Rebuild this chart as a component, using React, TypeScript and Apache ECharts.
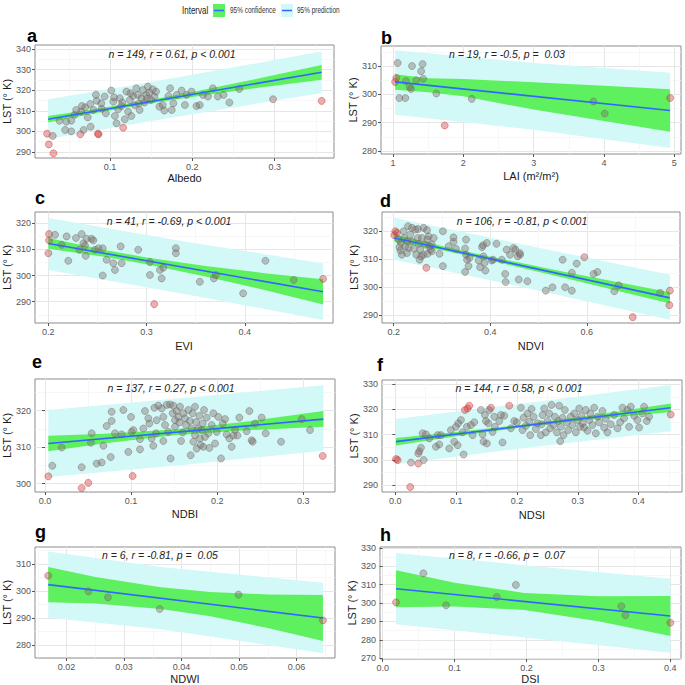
import React, { useEffect, useRef } from 'react';
import * as echarts from 'echarts';

// ---------- data ----------
// points: [x, LST, influence(0 = grey .. 1 = red)]
const albedoPts = [
  [0.0237, 298.9, 1], [0.0258, 293.7, 1], [0.0314, 289.4, 1], [0.0306, 297.8, 0.4], [0.0387, 305.2, 0], [0.0456, 300.7, 0],
  [0.047, 304.7, 0], [0.053, 300.0, 0], [0.053, 305.2, 0], [0.057, 308.0, 0], [0.059, 310.4, 0], [0.064, 298.6, 0.9],
  [0.065, 309.6, 0], [0.066, 312.3, 0], [0.068, 300.7, 0], [0.070, 311.7, 0], [0.073, 306.8, 0], [0.0765, 302.3, 0.2],
  [0.076, 313.3, 0], [0.080, 310.4, 0], [0.083, 317.7, 0], [0.084, 314.9, 0], [0.0854, 298.9, 1], [0.0862, 298.6, 1],
  [0.0895, 313.6, 0], [0.09, 311.0, 0], [0.0935, 316.9, 0], [0.095, 308.8, 0], [0.1016, 319.8, 0], [0.104, 314.4, 0],
  [0.105, 316.5, 0], [0.106, 307.5, 0], [0.108, 303.9, 0], [0.110, 310.7, 0], [0.112, 316.1, 0], [0.114, 312.3, 0],
  [0.115, 314.0, 0], [0.116, 301.8, 0.9], [0.118, 305.9, 0], [0.120, 319.3, 0], [0.122, 309.6, 0], [0.124, 315.2, 0],
  [0.125, 318.5, 0], [0.126, 307.5, 0], [0.128, 317.2, 0], [0.130, 312.8, 0], [0.132, 320.9, 0], [0.134, 317.7, 0],
  [0.135, 313.5, 0], [0.136, 310.4, 0], [0.138, 316.1, 0], [0.140, 320.1, 0], [0.142, 314.0, 0], [0.144, 317.7, 0],
  [0.145, 316.0, 0], [0.146, 321.7, 0], [0.148, 318.8, 0], [0.150, 315.2, 0], [0.152, 320.4, 0], [0.154, 316.9, 0],
  [0.156, 319.3, 0], [0.160, 312.0, 0], [0.164, 312.8, 0], [0.166, 310.1, 0], [0.171, 317.2, 0], [0.173, 320.9, 0],
  [0.175, 310.4, 0], [0.177, 313.6, 0], [0.181, 317.7, 0], [0.187, 319.8, 0], [0.191, 312.8, 0], [0.193, 317.7, 0],
  [0.199, 319.3, 0], [0.205, 312.3, 0], [0.209, 312.8, 0], [0.213, 317.7, 0], [0.219, 316.9, 0], [0.225, 320.9, 0],
  [0.231, 316.9, 0], [0.238, 317.7, 0], [0.245, 314.0, 0], [0.257, 320.6, 0], [0.298, 315.6, 0.3], [0.357, 314.8, 1],
];
const laiPts = [
  [1.066, 311.1, 0.2], [1.047, 305.8, 0.7], [1.03, 304.4, 0.8], [1.09, 298.7, 0], [1.175, 298.7, 0], [1.185, 304.7, 0],
  [1.237, 302.6, 0], [1.256, 301.9, 0], [1.27, 310.0, 0], [1.33, 305.0, 0], [1.40, 308.2, 0], [1.42, 310.7, 0],
  [1.43, 305.5, 0], [1.616, 300.3, 0], [1.735, 289.0, 1], [2.12, 298.4, 0], [3.85, 297.5, 0], [4.01, 293.2, 0],
  [4.94, 298.7, 0.9],
];
const eviPts = [
  [0.2007, 315.8, 0.8], [0.2007, 313.4, 0.8], [0.2, 308.5, 0.9], [0.2068, 315.5, 0], [0.2136, 311.7, 0], [0.2186, 314.9, 0],
  [0.2203, 305.6, 0], [0.2281, 314.3, 0], [0.2315, 309.8, 0], [0.2339, 315.8, 0], [0.2356, 312.3, 0], [0.2373, 311.4, 0],
  [0.238, 307.5, 0], [0.239, 314.0, 0], [0.244, 314.0, 0], [0.2458, 313.4, 0], [0.2475, 309.8, 0], [0.251, 310.4, 0],
  [0.2553, 310.4, 0], [0.2553, 300.0, 0], [0.2593, 306.0, 0], [0.2661, 304.7, 0], [0.2678, 302.1, 0], [0.2746, 304.7, 0],
  [0.2736, 311.1, 0], [0.2915, 309.8, 0], [0.3034, 305.1, 0], [0.3034, 300.2, 0], [0.3078, 289.1, 1], [0.3136, 302.1, 0],
  [0.3153, 298.9, 0], [0.317, 303.0, 0], [0.3298, 310.4, 0], [0.3298, 308.5, 0], [0.3542, 297.6, 0], [0.3685, 298.9, 0],
  [0.3705, 300.2, 0], [0.3983, 293.2, 0], [0.421, 305.6, 0], [0.4498, 298.3, 0], [0.4797, 298.7, 0.9],
];
const ndviPts = [
  [0.2034, 320.0, 1], [0.2014, 318.6, 1], [0.207, 319.4, 0.8], [0.2103, 317.0, 0], [0.214, 313.1, 0], [0.215, 315.8, 0],
  [0.2207, 320.0, 0], [0.224, 314.6, 0], [0.2276, 312.2, 0], [0.2297, 321.8, 0], [0.2345, 318.8, 0], [0.238, 316.4, 0],
  [0.2414, 313.7, 0], [0.2448, 320.6, 0], [0.2469, 311.6, 0], [0.25, 317.6, 0], [0.2503, 320.8, 0], [0.2517, 315.5, 0],
  [0.2538, 309.8, 0], [0.2552, 313.4, 0], [0.2586, 317.6, 0], [0.262, 311.6, 0], [0.2655, 315.2, 0], [0.2676, 306.9, 0.9],
  [0.269, 320.4, 0], [0.270, 311.9, 0], [0.2724, 318.2, 0], [0.2745, 314.6, 0], [0.276, 313.4, 0], [0.279, 315.2, 0],
  [0.295, 311.9, 0], [0.302, 320.0, 0], [0.302, 307.5, 0], [0.314, 314.6, 0], [0.324, 317.8, 0], [0.324, 316.2, 0],
  [0.329, 313.7, 0], [0.348, 313.8, 0], [0.350, 317.0, 0], [0.350, 311.6, 0], [0.348, 305.4, 0], [0.352, 309.8, 0],
  [0.355, 307.5, 0], [0.357, 310.4, 0], [0.376, 309.5, 0], [0.379, 307.1, 0], [0.383, 314.3, 0], [0.385, 315.0, 0],
  [0.386, 311.0, 0], [0.388, 308.6, 0], [0.390, 305.9, 0], [0.393, 315.8, 0], [0.403, 309.5, 0], [0.406, 309.8, 0],
  [0.413, 315.5, 0], [0.424, 309.8, 0], [0.431, 304.7, 0], [0.432, 301.8, 0], [0.434, 313.4, 0], [0.441, 311.6, 0],
  [0.448, 314.0, 0], [0.452, 313.4, 0], [0.457, 311.0, 0], [0.461, 312.2, 0], [0.459, 302.7, 0], [0.462, 311.6, 0],
  [0.477, 302.1, 0], [0.515, 298.7, 0], [0.529, 299.9, 0], [0.550, 309.8, 0], [0.555, 299.9, 0], [0.569, 305.1, 0],
  [0.569, 298.7, 0], [0.579, 308.4, 0], [0.595, 310.7, 0.6], [0.614, 304.7, 0], [0.622, 305.4, 0], [0.657, 298.5, 0],
  [0.666, 300.6, 0], [0.695, 289.2, 1], [0.752, 297.9, 0], [0.772, 298.7, 0.8], [0.771, 293.5, 0.8],
  [0.217, 311.6, 0], [0.228, 316.4, 0], [0.238, 321.2, 0], [0.262, 321.2, 0], [0.270, 317.0, 0], [0.283, 317.6, 0],
  [0.212, 314.3, 0], [0.231, 314.0, 0], [0.257, 311.0, 0], [0.222, 317.6, 0], [0.279, 312.8, 0],
];
const ndbiPts = [
  [0.0039, 302.0, 1], [0.0085, 304.9, 0], [0.0194, 309.9, 0], [0.0426, 304.5, 0], [0.0426, 298.8, 1], [0.0503, 300.2, 1],
  [0.0542, 313.8, 0], [0.0534, 311.2, 0], [0.06, 305.5, 0], [0.0658, 305.8, 0], [0.0678, 310.4, 0], [0.0716, 315.8, 0],
  [0.0763, 307.3, 0], [0.0774, 319.7, 0], [0.0774, 317.2, 0], [0.0813, 313.8, 0], [0.089, 313.5, 0], [0.091, 320.2, 0],
  [0.0968, 308.7, 0], [0.0999, 318.3, 0], [0.1006, 314.2, 0], [0.1026, 314.7, 0], [0.1018, 302.1, 1], [0.1103, 309.4, 0],
  [0.1103, 312.2, 0], [0.1142, 315.1, 0], [0.1161, 319.9, 0], [0.12, 317.9, 0], [0.1212, 316.5, 0], [0.1239, 312.4, 0],
  [0.1258, 310.4, 0], [0.127, 320.8, 0], [0.1289, 313.8, 0], [0.1297, 317.4, 0], [0.1316, 321.4, 0], [0.1355, 320.6, 0],
  [0.1374, 318.3, 0], [0.1374, 311.7, 0], [0.1394, 316.1, 0], [0.1413, 321.6, 0], [0.1432, 314.2, 0], [0.1452, 321.7, 0],
  [0.1459, 306.9, 0], [0.1483, 319.3, 0], [0.149, 321.4, 0], [0.151, 317.4, 0], [0.151, 315.6, 0], [0.1529, 319.9, 0],
  [0.1549, 318.3, 0], [0.156, 316.8, 0], [0.1568, 321.1, 0], [0.158, 311.7, 0], [0.16, 314.0, 0], [0.1607, 319.3, 0],
  [0.1626, 317.9, 0], [0.1638, 316.1, 0], [0.1665, 320.2, 0], [0.1684, 317.2, 0], [0.1692, 307.8, 0], [0.1703, 315.1, 0],
  [0.1715, 319.3, 0], [0.1723, 311.5, 0], [0.1742, 321.1, 0], [0.1742, 313.3, 0], [0.1754, 316.9, 0], [0.1762, 309.6, 0],
  [0.1781, 315.1, 0], [0.1793, 318.6, 0], [0.18, 312.4, 0], [0.1808, 310.6, 0], [0.182, 314.7, 0], [0.1831, 316.5, 0],
  [0.1839, 310.1, 0], [0.1847, 320.2, 0], [0.1858, 312.8, 0], [0.1878, 318.1, 0], [0.1897, 313.8, 0], [0.1909, 309.8, 0],
  [0.1936, 316.1, 0], [0.1955, 319.3, 0], [0.1975, 311.0, 0], [0.1994, 314.2, 0], [0.2013, 318.3, 0], [0.2044, 306.9, 0],
  [0.2064, 316.5, 0], [0.2091, 317.7, 0], [0.211, 313.5, 0], [0.2141, 312.4, 0], [0.2168, 310.1, 0], [0.2187, 313.2, 0],
  [0.2207, 314.7, 0], [0.2234, 313.2, 0], [0.2257, 318.1, 0], [0.2342, 314.4, 0], [0.2373, 319.9, 0], [0.24, 311.9, 0],
  [0.2412, 311.5, 0], [0.2439, 316.5, 0], [0.2516, 318.1, 0], [0.2563, 313.8, 0], [0.2741, 311.5, 0], [0.2981, 317.7, 0],
  [0.3078, 314.7, 0], [0.3225, 307.6, 1],
];
const ndsiPts = [
  [0.0011, 300.3, 1], [0.0038, 299.9, 1], [0.0257, 298.9, 0.3], [0.0246, 289.2, 1], [0.0378, 298.5, 0.8], [0.0378, 302.5, 0.3],
  [0.0394, 303.4, 0], [0.0422, 304.8, 0], [0.0466, 299.9, 0], [0.0449, 310.5, 0], [0.0504, 310.1, 0], [0.0559, 308.5, 0],
  [0.0668, 305.2, 0], [0.0696, 309.8, 0], [0.0723, 306.1, 0], [0.075, 309.8, 0], [0.0887, 304.5, 0], [0.0915, 311.8, 0],
  [0.0969, 307.2, 0], [0.0997, 313.1, 0], [0.1024, 305.8, 0], [0.1035, 314.5, 0], [0.1079, 315.8, 0], [0.1106, 310.9, 0],
  [0.1123, 302.1, 0], [0.1145, 319.8, 1], [0.1177, 313.1, 0], [0.1188, 320.4, 1], [0.1216, 321.5, 1], [0.1243, 313.8, 0],
  [0.1271, 309.8, 0], [0.1298, 314.9, 0], [0.1407, 319.8, 0], [0.1435, 310.1, 0], [0.1451, 307.2, 0], [0.1473, 317.8, 0],
  [0.149, 315.4, 0], [0.1506, 306.5, 0], [0.1528, 314.5, 0], [0.1544, 319.8, 0], [0.1572, 320.7, 0.8], [0.1599, 311.1, 0],
  [0.1627, 317.1, 0], [0.1637, 313.1, 0], [0.1709, 315.4, 0], [0.1736, 317.8, 0], [0.1763, 306.9, 0], [0.1791, 317.5, 0],
  [0.1873, 321.5, 0.9], [0.19, 312.5, 0], [0.1955, 315.4, 0], [0.1999, 314.9, 0], [0.2065, 320.7, 0], [0.2092, 311.8, 0],
  [0.2108, 316.7, 0], [0.2147, 313.5, 0], [0.2174, 318.4, 0], [0.2202, 315.1, 0], [0.2218, 309.8, 0], [0.224, 320.2, 0],
  [0.2273, 317.1, 0], [0.2311, 312.2, 0], [0.2338, 314.5, 0], [0.2393, 309.8, 0], [0.2404, 314.1, 0], [0.2421, 317.8, 0],
  [0.2448, 320.4, 0], [0.2475, 310.9, 0], [0.2503, 315.4, 0], [0.253, 318.4, 0], [0.2547, 312.5, 0], [0.2568, 321.8, 0],
  [0.2601, 313.8, 0], [0.2623, 317.1, 0], [0.2656, 310.9, 0], [0.2678, 315.4, 0], [0.2694, 321.5, 0], [0.2711, 307.4, 0],
  [0.2722, 313.1, 0], [0.2749, 316.7, 0], [0.2766, 309.8, 0], [0.2788, 319.8, 0], [0.282, 314.9, 0], [0.2842, 311.8, 0],
  [0.2886, 317.1, 0], [0.2913, 313.8, 0], [0.2941, 318.4, 0], [0.2968, 310.9, 0], [0.2996, 315.8, 0], [0.3023, 320.4, 0],
  [0.3039, 313.1, 0], [0.3061, 317.5, 0], [0.3078, 314.5, 0], [0.3105, 312.8, 0], [0.3133, 319.8, 0], [0.316, 311.5, 0],
  [0.3187, 315.8, 0], [0.3204, 318.4, 0], [0.3242, 313.8, 0], [0.327, 320.7, 0], [0.3297, 310.5, 0], [0.3324, 317.1, 0],
  [0.3352, 314.9, 0], [0.3406, 319.4, 0], [0.3434, 312.8, 0], [0.3461, 316.3, 0], [0.3488, 310.9, 0], [0.3543, 314.1, 0],
  [0.3598, 317.8, 0], [0.3653, 312.5, 0], [0.3697, 314.9, 0], [0.3735, 320.7, 0], [0.3762, 316.5, 0], [0.3817, 319.8, 0],
  [0.3844, 313.1, 0], [0.3872, 321.1, 0], [0.3927, 317.5, 0], [0.3981, 315.8, 0], [0.4009, 312.8, 0], [0.4064, 318.4, 0],
  [0.4091, 321.1, 0], [0.4135, 315.4, 0], [0.4173, 317.1, 0], [0.4529, 318.0, 1],
];
const ndwiPts = [
  [0.0168, 305.7, 0.8], [0.0238, 299.9, 0], [0.0272, 297.7, 0], [0.0362, 293.4, 0], [0.0499, 298.7, 0], [0.0646, 289.2, 0.8],
];
const dsiPts = [
  [0.0186, 300.4, 0.7], [0.0566, 316.2, 0], [0.0882, 298.8, 0], [0.1587, 303.3, 0], [0.1852, 309.9, 0], [0.3318, 298.3, 0],
  [0.3374, 293.4, 0], [0.4, 289.3, 0.8],
];

// fitted lines: [x, LST] at both ends
const albedoLine = [[0.025, 305.9], [0.357, 328.7]];
const laiLine = [[1.03, 304.4], [4.94, 294.3]];
const eviLine = [[0.2, 312.2], [0.4797, 293.8]];
const ndviLine = [[0.2014, 317.6], [0.772, 296.1]];
const ndbiLine = [[0.0039, 311.0], [0.3233, 317.7]];
const ndsiLine = [[0.0011, 307.2], [0.4529, 320.7]];
const ndwiLine = [[0.0168, 302.4], [0.0646, 290.1]];
const dsiLine = [[0.0186, 307.8], [0.4, 293.0]];

// 95% confidence band edges: [x, lower, upper]
const albedoConf = [[0.025, 304.3, 307.5], [0.08, 308.7, 310.8], [0.14, 313.0, 314.6], [0.2, 316.7, 319.1], [0.28, 321.2, 325.6], [0.357, 325.1, 332.2]];
const laiConf = [[1.03, 301.6, 307.1], [1.5, 300.7, 305.7], [2, 299.3, 305.4], [3, 294.6, 304.3], [4, 290.6, 303.0], [4.94, 286.8, 301.8]];
const eviConf = [[0.2, 310.2, 314.3], [0.26, 306.95, 309.55], [0.3, 304.3, 306.9], [0.36, 299.65, 303.65], [0.42, 294.5, 300.9], [0.4797, 288.95, 298.6]];
const ndviConf = [[0.2014, 316.3, 318.9], [0.3, 313.15, 314.75], [0.4, 309.47, 310.87], [0.55, 303.4, 305.6], [0.772, 294.1, 298.1]];
const ndbiConf = [[0.0039, 308.9, 313.1], [0.07, 311.1, 313.7], [0.15, 313.26, 314.86], [0.23, 314.6, 316.9], [0.3233, 315.6, 319.9]];
const ndsiConf = [[0.0011, 305.7, 308.7], [0.1, 309.4, 311.0], [0.22, 313.2, 314.3], [0.33, 316.2, 317.9], [0.4529, 319.0, 322.4]];
const ndwiConf = [[0.0168, 295.9, 308.9], [0.025, 295.4, 305.2], [0.0364, 293.4, 301.4], [0.045, 290.7, 299.7], [0.055, 286.4, 298.8], [0.0646, 281.6, 298.6]];
const dsiConf = [[0.0186, 297.7, 317.9], [0.1, 298.1, 311.1], [0.197, 296.3, 305.5], [0.3, 290.1, 303.7], [0.4, 282.1, 303.9]];

// 95% prediction band edges: [x, lower, upper]
const albedoPred = [[0.025, 296.3, 315.6], [0.15, 305.1, 323.9], [0.357, 318.6, 338.7]];
const laiPred = [[1.03, 292.8, 315.6], [3, 287.5, 311.1], [4.94, 281.0, 307.6]];
const eviPred = [[0.2, 302.1, 321.9], [0.34, 292.9, 312.9], [0.4797, 283.0, 304.6]];
const ndviPred = [[0.2014, 309.8, 324.8], [0.48, 299.5, 314.8], [0.772, 288.3, 304.4]];
const ndbiPred = [[0.0039, 301.8, 320.2], [0.16, 305.1, 323.5], [0.3233, 309.0, 327.0]];
const ndsiPred = [[0.0011, 298.2, 316.2], [0.22, 304.9, 322.7], [0.4529, 311.3, 329.7]];
const ndwiPred = [[0.0168, 290.2, 314.6], [0.0364, 285.9, 308.9], [0.0646, 277.1, 303.1]];
const dsiPred = [[0.0186, 288.5, 327.3], [0.197, 281.3, 320.6], [0.4, 273.0, 313.2]];

// axes
const X_TITLES = ['Albedo', 'LAI (m\u00B2/m\u00B2)', 'EVI', 'NDVI', 'NDBI', 'NDSI', 'NDWI', 'DSI'];
const Y_TITLE = 'LST (\u00B0 K)';
const PANEL_LETTERS = ['a', 'b', 'c', 'd', 'e', 'f', 'g', 'h'];
const STATS = [
  'n = 149, r = 0.61, p < 0.001',
  'n = 19, r = -0.5, p =  0.03',
  'n = 41, r = -0.69, p < 0.001',
  'n = 106, r = -0.81, p < 0.001',
  'n = 137, r = 0.27, p < 0.001',
  'n = 144, r = 0.58, p < 0.001',
  'n = 6, r = -0.81, p =  0.05',
  'n = 8, r = -0.66, p =  0.07',
];
const X_RANGE = [[0.009, 0.372], [0.829, 5.095], [0.1864, 0.4898], [0.1759, 0.793], [-0.0116, 0.3368], [-0.0219, 0.4714], [0.0145, 0.0667], [-0.0037, 0.4148]];
const Y_RANGE = [[287.1, 341.9], [278.9, 317.1], [281.9, 324.2], [287.1, 326.9], [297.7, 328.7], [287.2, 331.7], [275.3, 316.3], [269.6, 330.5]];
const X_TICKS = [
  [0.1, 0.2, 0.3], [1, 2, 3, 4, 5], [0.2, 0.3, 0.4], [0.2, 0.4, 0.6], [0, 0.1, 0.2, 0.3], [0, 0.1, 0.2, 0.3, 0.4],
  [0.02, 0.03, 0.04, 0.05, 0.06], [0, 0.1, 0.2, 0.3, 0.4],
];
const X_MINOR = [
  [0.05, 0.15, 0.25, 0.35], [1.5, 2.5, 3.5, 4.5], [0.25, 0.35, 0.45], [0.3, 0.5, 0.7], [0.05, 0.15, 0.25],
  [0.05, 0.15, 0.25, 0.35, 0.45], [0.015, 0.025, 0.035, 0.045, 0.055, 0.065], [0.05, 0.15, 0.25, 0.35],
];
const X_DECIMALS = [1, 0, 1, 1, 1, 1, 2, 1];
const Y_TICKS = [
  [290, 300, 310, 320, 330, 340], [280, 290, 300, 310], [290, 300, 310, 320], [290, 300, 310, 320], [300, 310, 320],
  [290, 300, 310, 320, 330], [280, 290, 300, 310], [270, 280, 290, 300, 310, 320, 330],
];
const Y_MINOR = [
  [295, 305, 315, 325, 335], [285, 295, 305, 315], [285, 295, 305, 315], [295, 305, 315, 325], [305, 315, 325],
  [295, 305, 315, 325], [285, 295, 305, 315], [275, 285, 295, 305, 315, 325],
];
const LEGEND_TITLE = 'Interval';
const LEGEND_LABELS = ['95% confidence', '95% prediction'];

const POINTS = [albedoPts, laiPts, eviPts, ndviPts, ndbiPts, ndsiPts, ndwiPts, dsiPts];
const LINES = [albedoLine, laiLine, eviLine, ndviLine, ndbiLine, ndsiLine, ndwiLine, dsiLine];
const CONF = [albedoConf, laiConf, eviConf, ndviConf, ndbiConf, ndsiConf, ndwiConf, dsiConf];
const PRED = [albedoPred, laiPred, eviPred, ndviPred, ndbiPred, ndsiPred, ndwiPred, dsiPred];

// ---------- layout & style ----------
const LAYOUT = [
  { left: 35, top: 45, width: 299, height: 113 },
  { left: 381, top: 46, width: 300, height: 108 },
  { left: 35, top: 212, width: 298, height: 111 },
  { left: 382, top: 212, width: 298, height: 111 },
  { left: 35, top: 379, width: 300, height: 113 },
  { left: 382, top: 380, width: 300, height: 112 },
  { left: 35, top: 547, width: 300, height: 111 },
  { left: 380, top: 547, width: 301, height: 113 },
];
const X_NAME_GAP = [14, 16, 17, 17, 16, 17, 15, 14];
const STAT_POS = [[172, 54], [507, 54], [169, 221], [522, 221], [171, 388], [519, 388], [160, 555], [507, 555]];
const LETTER_POS = [[27, 36], [381, 38], [35, 198], [380, 201], [32, 362], [377, 365], [35, 532], [380, 535]];

const FONT = '"Liberation Sans", Arial, sans-serif';
const GREEN = '#5ef05e';
const CYAN = '#d2f8f8';
const BLUE = '#3366ff';

function ptColor(w: number, a: number) {
  const r = Math.round(120 + (205 - 120) * w);
  const g = Math.round(105 + (55 - 105) * w);
  const b = Math.round(100 + (55 - 100) * w);
  return `rgba(${r},${g},${b},${a})`;
}

function bandSeries(band: number[][], i: number, color: string, z: number) {
  return {
    type: 'custom',
    xAxisIndex: i,
    yAxisIndex: i,
    z,
    silent: true,
    data: band,
    encode: { x: 0, y: [1, 2] },
    renderItem: (params: any, api: any) => {
      if (params.dataIndex !== 0) return { type: 'group', children: [] };
      const up = band.map((r) => api.coord([r[0], r[2]]));
      const lo = band.map((r) => api.coord([r[0], r[1]])).reverse();
      return { type: 'polygon', shape: { points: up.concat(lo) }, style: { fill: color } };
    },
  };
}

function buildOption() {
  const grid = LAYOUT.map((l) => ({ ...l, show: true, borderColor: '#8c8c8c', borderWidth: 1, backgroundColor: 'transparent' }));
  const xAxis: any[] = [];
  const yAxis: any[] = [];
  for (let i = 0; i < 8; i++) {
    const dec = X_DECIMALS[i];
    xAxis.push({
      type: 'value', gridIndex: i, min: X_RANGE[i][0], max: X_RANGE[i][1], position: 'bottom',
      name: X_TITLES[i], nameLocation: 'middle', nameGap: X_NAME_GAP[i],
      nameTextStyle: { fontSize: 11, color: '#1a1a1a', fontFamily: FONT },
      axisLine: { show: false },
      axisTick: { show: true, length: 3, lineStyle: { color: '#555' }, customValues: X_TICKS[i] },
      axisLabel: { customValues: X_TICKS[i], formatter: (v: number) => Number(v).toFixed(dec), fontSize: 9, color: '#555', margin: 4, fontFamily: FONT },
      splitLine: { show: true, lineStyle: { color: '#e6e6e6', width: 1 } },
    });
    yAxis.push({
      type: 'value', gridIndex: i, min: Y_RANGE[i][0], max: Y_RANGE[i][1], position: 'left',
      name: Y_TITLE, nameLocation: 'middle', nameGap: 22,
      nameTextStyle: { fontSize: 11, color: '#1a1a1a', fontFamily: FONT },
      axisLine: { show: false },
      axisTick: { show: true, length: 3, lineStyle: { color: '#555' }, customValues: Y_TICKS[i] },
      axisLabel: { customValues: Y_TICKS[i], formatter: (v: number) => String(Math.round(v)), fontSize: 9, color: '#555', margin: 4, fontFamily: FONT },
      splitLine: { show: true, lineStyle: { color: '#e6e6e6', width: 1 } },
    });
  }
  for (let i = 0; i < 8; i++) {
    xAxis.push({
      type: 'value', gridIndex: i, min: X_RANGE[i][0], max: X_RANGE[i][1], position: 'top',
      axisLine: { show: false }, axisLabel: { show: false },
      axisTick: { show: false, customValues: X_MINOR[i] },
      splitLine: { show: true, lineStyle: { color: '#f3f3f3', width: 0.7 } },
    });
    yAxis.push({
      type: 'value', gridIndex: i, min: Y_RANGE[i][0], max: Y_RANGE[i][1], position: 'right',
      axisLine: { show: false }, axisLabel: { show: false },
      axisTick: { show: false, customValues: Y_MINOR[i] },
      splitLine: { show: true, lineStyle: { color: '#f3f3f3', width: 0.7 } },
    });
  }

  const series: any[] = [];
  for (let i = 0; i < 8; i++) {
    series.push(bandSeries(PRED[i], i, CYAN, 1));
    series.push(bandSeries(CONF[i], i, GREEN, 2));
    series.push({
      type: 'scatter', xAxisIndex: i, yAxisIndex: i, z: 3, silent: true, symbolSize: 7,
      data: POINTS[i].map((p) => ({ value: p, itemStyle: { color: ptColor(p[2], 0.5), borderColor: ptColor(p[2], 0.8), borderWidth: 0.7 } })),
    });
    series.push({
      type: 'line', xAxisIndex: i, yAxisIndex: i, z: 4, silent: true, symbol: 'none',
      data: LINES[i], lineStyle: { color: BLUE, width: 1.6 },
    });
  }

  const graphic: any[] = [];
  for (let i = 0; i < 8; i++) {
    graphic.push({
      type: 'text', z: 100, x: LETTER_POS[i][0], y: LETTER_POS[i][1],
      style: { text: PANEL_LETTERS[i], fontSize: 18, fontWeight: 'bold', fontFamily: FONT, fill: '#000', align: 'left', verticalAlign: 'middle' },
    });
    graphic.push({
      type: 'text', z: 100, x: STAT_POS[i][0], y: STAT_POS[i][1],
      style: { text: STATS[i], fontSize: 10.5, fontStyle: 'italic', fontFamily: FONT, fill: '#222', align: 'center', verticalAlign: 'middle' },
    });
  }
  // legend
  graphic.push({ type: 'text', z: 100, x: 182, y: 10.5, scaleX: 0.8, style: { text: LEGEND_TITLE, fontSize: 10, fontFamily: FONT, fill: '#222', align: 'left', verticalAlign: 'middle' } });
  graphic.push({ type: 'rect', z: 100, shape: { x: 213, y: 4, width: 12, height: 13 }, style: { fill: GREEN } });
  graphic.push({ type: 'line', z: 101, shape: { x1: 214, y1: 10.5, x2: 224, y2: 10.5 }, style: { stroke: BLUE, lineWidth: 1.5 } });
  graphic.push({ type: 'text', z: 100, x: 230, y: 10.5, scaleX: 0.75, style: { text: LEGEND_LABELS[0], fontSize: 8.6, fontFamily: FONT, fill: '#333', align: 'left', verticalAlign: 'middle' } });
  graphic.push({ type: 'rect', z: 100, shape: { x: 281, y: 4, width: 12, height: 13 }, style: { fill: CYAN } });
  graphic.push({ type: 'line', z: 101, shape: { x1: 282, y1: 10.5, x2: 292, y2: 10.5 }, style: { stroke: BLUE, lineWidth: 1.5 } });
  graphic.push({ type: 'text', z: 100, x: 297, y: 10.5, scaleX: 0.75, style: { text: LEGEND_LABELS[1], fontSize: 8.6, fontFamily: FONT, fill: '#333', align: 'left', verticalAlign: 'middle' } });

  return {
    animation: false,
    backgroundColor: '#ffffff',
    textStyle: { fontFamily: FONT },
    grid, xAxis, yAxis, series, graphic,
  };
}

export default function App() {
  const ref = useRef<HTMLDivElement>(null);
  useEffect(() => {
    const chart = echarts.init(ref.current as HTMLDivElement, null, { renderer: 'svg' });
    chart.setOption(buildOption() as any);
    return () => chart.dispose();
  }, []);
  return <div ref={ref} style={{ position: 'absolute', left: 0, top: 0, width: 685, height: 685, background: '#fff' }} />;
}
